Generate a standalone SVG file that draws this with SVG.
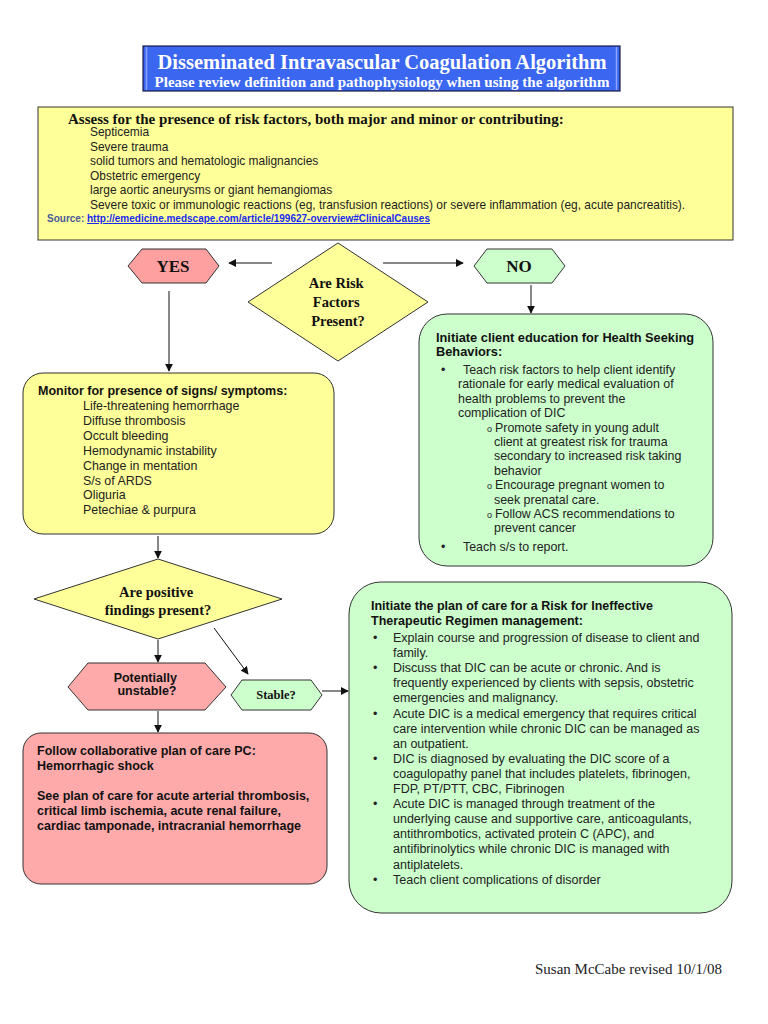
<svg xmlns="http://www.w3.org/2000/svg" width="768" height="1024" viewBox="0 0 768 1024">
<style>
.hd{font-family:"Liberation Serif","Times New Roman",serif;font-weight:bold;fill:#111}
.sb{font-family:"Liberation Sans",Arial,sans-serif;font-weight:bold;fill:#111;font-size:12.5px}
.s{font-family:"Liberation Sans",Arial,sans-serif;fill:#222;font-size:12.4px}
.box{stroke:#333;stroke-width:1}
.yel{fill:#ffff99}
.grn{fill:#ccffcc}
.pnk{fill:#ffaaaa}
.conn line{stroke:#111;stroke-width:1;marker-end:url(#ah)}
</style>
<defs>
<marker id="ah" viewBox="0 0 10 10" refX="9" refY="5" markerWidth="8" markerHeight="8" markerUnits="userSpaceOnUse" orient="auto">
<path d="M0,0 L10,5 L0,10 z" fill="#111"/>
</marker>
</defs>
<rect width="768" height="1024" fill="#ffffff"/>

<g id="title">
<rect x="143" y="46" width="477" height="45" fill="#3a66f0" stroke="#1a1a4a" stroke-width="1.2"/>
<line x1="146.5" y1="47" x2="146.5" y2="90" stroke="#8aa4ff" stroke-width="1.5"/>
<line x1="616.5" y1="47" x2="616.5" y2="90" stroke="#8aa4ff" stroke-width="1.5"/>
<text x="382" y="69" text-anchor="middle" class="hd" style="fill:#ffffff;font-size:20.5px">Disseminated Intravascular Coagulation Algorithm</text>
<text x="382" y="86.5" text-anchor="middle" class="hd" style="fill:#ffffff;font-size:15px">Please review definition and pathophysiology when using the algorithm</text>
</g>

<g id="risk-factors">
<rect x="38" y="107" width="695" height="133" class="box yel"/>
<text x="68" y="124" class="hd" style="font-size:15px">Assess for the presence of risk factors, both major and minor or contributing:</text>
<text class="s" style="font-size:11.95px">
<tspan x="90" y="136">Septicemia</tspan>
<tspan x="90" y="150.5">Severe trauma</tspan>
<tspan x="90" y="165">solid tumors and hematologic malignancies</tspan>
<tspan x="90" y="179.5">Obstetric emergency</tspan>
<tspan x="90" y="194">large aortic aneurysms or giant hemangiomas</tspan>
<tspan x="90" y="208.5">Severe toxic or immunologic reactions (eg, transfusion reactions) or severe inflammation (eg, acute pancreatitis).</tspan>
</text>
<text x="47" y="222" class="sb" style="font-size:10px;fill:#4a5a9a">Source: <tspan style="fill:#1a2aee;text-decoration:underline">http://emedicine.medscape.com/article/199627-overview#ClinicalCauses</tspan></text>
</g>

<g id="yes">
<polygon points="128,266 142,249 206,249 219,266 206,283 142,283" class="box" fill="#ffa0a0"/>
<text x="173" y="272" text-anchor="middle" class="hd" style="font-size:17px">YES</text>
</g>

<g id="risk-decision">
<polygon points="338,243 428,302 338,361 248,302" class="box yel"/>
<text class="hd" style="font-size:14.5px" text-anchor="middle">
<tspan x="338" y="288">Are Risk</tspan>
<tspan x="338" y="307">Factors</tspan>
<tspan x="338" y="326">Present?</tspan>
</text>
</g>

<g id="no">
<polygon points="474,266 487,249 552,249 565,266 552,283 487,283" class="box grn"/>
<text x="519" y="272" text-anchor="middle" class="hd" style="font-size:17px">NO</text>
</g>

<g id="education">
<rect x="419" y="314" width="294" height="252" rx="28" class="box grn"/>
<text class="sb" style="font-size:12.8px">
<tspan x="436" y="342">Initiate client education for Health Seeking</tspan>
<tspan x="436" y="356">Behaviors:</tspan>
</text>
<text class="s">
<tspan x="441" y="374">•</tspan><tspan x="463" y="374">Teach risk factors to help client identify</tspan>
<tspan x="458" y="388.4">rationale for early medical evaluation of</tspan>
<tspan x="458" y="402.8">health problems to prevent the</tspan>
<tspan x="458" y="417.2">complication of DIC</tspan>
<tspan x="487" y="431.6" style="font-size:9px">o</tspan><tspan x="495" y="431.6">Promote safety in young adult</tspan>
<tspan x="494" y="446">client at greatest risk for trauma</tspan>
<tspan x="494" y="460.4">secondary to increased risk taking</tspan>
<tspan x="494" y="474.8">behavior</tspan>
<tspan x="487" y="489.2" style="font-size:9px">o</tspan><tspan x="495" y="489.2">Encourage pregnant women to</tspan>
<tspan x="494" y="503.6">seek prenatal care.</tspan>
<tspan x="487" y="518" style="font-size:9px">o</tspan><tspan x="495" y="518">Follow ACS recommendations to</tspan>
<tspan x="494" y="532.4">prevent cancer</tspan>
<tspan x="441" y="551">•</tspan><tspan x="463" y="551">Teach s/s to report.</tspan>
</text>
</g>

<g id="monitor">
<rect x="23" y="373" width="311" height="161" rx="20" class="box yel"/>
<text x="38" y="395" class="sb">Monitor for presence of signs/ symptoms:</text>
<text class="s">
<tspan x="83" y="410">Life-threatening hemorrhage</tspan>
<tspan x="83" y="424.9">Diffuse thrombosis</tspan>
<tspan x="83" y="439.8">Occult bleeding</tspan>
<tspan x="83" y="454.7">Hemodynamic instability</tspan>
<tspan x="83" y="469.6">Change in mentation</tspan>
<tspan x="83" y="484.5">S/s of ARDS</tspan>
<tspan x="83" y="499.4">Oliguria</tspan>
<tspan x="83" y="514.3">Petechiae &amp; purpura</tspan>
</text>
</g>

<g id="findings-decision">
<polygon points="158,559 282,599 158,639 34,599" class="box yel"/>
<text class="hd" style="font-size:14.5px" text-anchor="middle">
<tspan x="158" y="597">Are positive</tspan>
<tspan x="158" y="615">findings present?</tspan>
</text>
</g>

<g id="unstable">
<polygon points="68,687 88,663 205,663 226,687 205,710 88,710" class="box pnk"/>
<text class="sb" text-anchor="middle">
<tspan x="147" y="682">Potentially</tspan>
<tspan x="147" y="695">unstable?</tspan>
</text>
</g>

<g id="stable">
<polygon points="231,695 242,680 311,680 322,695 311,710 242,710" class="box grn"/>
<text x="276" y="699" text-anchor="middle" class="hd" style="font-size:12.5px">Stable?</text>
</g>

<g id="collaborative">
<rect x="23" y="733" width="304" height="151" rx="18" class="box pnk"/>
<text class="sb">
<tspan x="37" y="755">Follow collaborative plan of care PC:</tspan>
<tspan x="37" y="770">Hemorrhagic shock</tspan>
<tspan x="37" y="800">See plan of care for acute arterial thrombosis,</tspan>
<tspan x="37" y="815">critical limb ischemia, acute renal failure,</tspan>
<tspan x="37" y="830">cardiac tamponade, intracranial hemorrhage</tspan>
</text>
</g>

<g id="therapeutic">
<rect x="349" y="582" width="383" height="331" rx="32" class="box grn"/>
<text class="sb">
<tspan x="371" y="610">Initiate the plan of care for a Risk for Ineffective</tspan>
<tspan x="371" y="625">Therapeutic Regimen management:</tspan>
</text>
<text class="s" style="font-size:12.5px">
<tspan x="373" y="642">•</tspan><tspan x="393" y="642">Explain course and progression of disease to client and</tspan>
<tspan x="393" y="657.1">family.</tspan>
<tspan x="373" y="672.2">•</tspan><tspan x="393" y="672.2">Discuss that DIC can be acute or chronic. And is</tspan>
<tspan x="393" y="687.3">frequently experienced by clients with sepsis, obstetric</tspan>
<tspan x="393" y="702.4">emergencies and malignancy.</tspan>
<tspan x="373" y="717.5">•</tspan><tspan x="393" y="717.5">Acute DIC is a medical emergency that requires critical</tspan>
<tspan x="393" y="732.6">care intervention while chronic DIC can be managed as</tspan>
<tspan x="393" y="747.7">an outpatient.</tspan>
<tspan x="373" y="762.8">•</tspan><tspan x="393" y="762.8">DIC is diagnosed by evaluating the DIC score of a</tspan>
<tspan x="393" y="777.9">coagulopathy panel that includes platelets, fibrinogen,</tspan>
<tspan x="393" y="793">FDP, PT/PTT, CBC, Fibrinogen</tspan>
<tspan x="373" y="808.1">•</tspan><tspan x="393" y="808.1">Acute DIC is managed through treatment of the</tspan>
<tspan x="393" y="823.2">underlying cause and supportive care, anticoagulants,</tspan>
<tspan x="393" y="838.3">antithrombotics, activated protein C (APC), and</tspan>
<tspan x="393" y="853.4">antifibrinolytics while chronic DIC is managed with</tspan>
<tspan x="393" y="868.5">antiplatelets.</tspan>
<tspan x="373" y="883.6">•</tspan><tspan x="393" y="883.6">Teach client complications of disorder</tspan>
</text>
</g>

<g id="footer">
<text x="535" y="974" style="font-family:'Liberation Serif','Times New Roman',serif;font-size:15px;fill:#222">Susan McCabe revised 10/1/08</text>
</g>

<g id="connectors" class="conn">
<line x1="272" y1="263" x2="229" y2="263"/>
<line x1="383" y1="263" x2="463" y2="263"/>
<line x1="531" y1="285" x2="531" y2="313"/>
<line x1="169" y1="291" x2="169" y2="371"/>
<line x1="158" y1="536" x2="158" y2="558"/>
<line x1="158" y1="640" x2="158" y2="662"/>
<line x1="214" y1="628" x2="248" y2="674"/>
<line x1="322" y1="691" x2="348" y2="691"/>
<line x1="158" y1="711" x2="158" y2="732"/>
</g>
</svg>
